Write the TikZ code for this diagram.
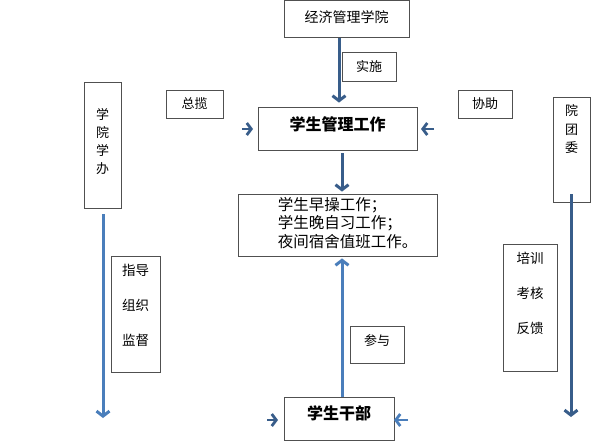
\documentclass[tikz,border=0pt]{standalone}
\usepackage{fontspec}
\setmainfont{Noto Sans CJK SC}
\usetikzlibrary{arrows.meta}
\definecolor{darkarr}{HTML}{385D8A}
\definecolor{lightarr}{HTML}{4A7EBB}
\definecolor{boxline}{HTML}{505050}
\begin{document}
\begin{tikzpicture}[x=1pt,y=-1pt,
  box/.style={draw=boxline, line width=0.8pt, fill=white, inner sep=0pt, align=center,
    font=\fontsize{13}{16}\selectfont},
  bigbold/.style={font=\fontsize{16}{18}\selectfont\bfseries},
  darr/.style={draw=darkarr, line width=3pt, -{Straight Barb[length=5pt,width=13pt]}},
  larr/.style={draw=lightarr, line width=3pt, -{Straight Barb[length=5pt,width=13pt]}},
  sdarr/.style={draw=darkarr, line width=2.8pt, -{Straight Barb[length=4.5pt,width=12pt]}},
  slarr/.style={draw=lightarr, line width=2.8pt, -{Straight Barb[length=4.5pt,width=12pt]}}]
\useasboundingbox (0,0) rectangle (592,442);

% boxes
\node[box, minimum width=125pt, minimum height=37pt, font=\fontsize{14}{16}\selectfont] (jj) at (346.5,18.8) {经济管理学院\rule[-5pt]{0pt}{5pt}};
\node[box, minimum width=54pt, minimum height=29pt] (ss) at (369,66.5) {实施};
\node[box, bigbold, minimum width=159pt, minimum height=43pt] (gl) at (337.5,128.5) {学生管理工作\rule[-10pt]{0pt}{10pt}};
\node[box, minimum width=57pt, minimum height=28pt] (zl) at (194.5,104) {总揽};
\node[box, minimum width=54pt, minimum height=28pt] (xz) at (485,104) {协助};
\node[box, minimum width=37pt, minimum height=126pt, font=\fontsize{13}{18}\selectfont] (xb) at (102.5,145) {学\\院\\学\\办\rule[-8pt]{0pt}{8pt}};
\node[box, minimum width=37pt, minimum height=105pt, font=\fontsize{13}{18.5}\selectfont] (tw) at (571.5,149.5) {院\\团\\委\rule[-42pt]{0pt}{42pt}};
\node[box, minimum width=199pt, minimum height=62pt, font=\fontsize{15.5}{18}\selectfont] (sx) at (337.5,225)
  {\hspace*{20pt}\begin{tabular}{@{}l@{}}学生早操工作；\\学生晚自习工作；\\夜间宿舍值班工作。\end{tabular}};
\node[box, minimum width=49pt, minimum height=116pt, font=\fontsize{13.5}{35}\selectfont] (zd) at (135.5,314) {指导\\组织\\监督\rule[-18pt]{0pt}{18pt}};
\node[box, bigbold, minimum width=110pt, minimum height=43pt] (gb) at (339,418.5) {学生干部\rule[-12pt]{0pt}{12pt}};
\node[box, minimum width=54pt, minimum height=37pt] (cy) at (377,344.5) {参与\rule[-8pt]{0pt}{8pt}};
\node[box, minimum width=54pt, minimum height=127pt, font=\fontsize{13.5}{35}\selectfont] (px) at (530,307.5) {培训\\考核\\反馈\rule[-29pt]{0pt}{29pt}};

% main connectors
\draw[darr, shorten >=4pt] (jj.south -| 339,0) -- (gl.north -| 339,0);
\draw[darr, shorten <=3pt, shorten >=2pt] (gl.south -| 342,0) -- (sx.north -| 342,0);
\draw[larr, shorten >=2pt] (gb.north -| 342,0) -- (sx.south -| 342,0);

% side long arrows
\coordinate (xbend) at (103,418);
\coordinate (twend) at (571,417);
\draw[larr, shorten <=6pt] (xb.south -| xbend) -- (xbend);
\draw[darr, shorten <=-8pt] (tw.south -| twend) -- (twend);

% small arrows
\coordinate (a1s) at (242,129); \coordinate (a1e) at (253,129);
\coordinate (a2s) at (434,129); \coordinate (a2e) at (421,129);
\coordinate (a3s) at (267,420); \coordinate (a3e) at (278,420);
\coordinate (a4s) at (408,420); \coordinate (a4e) at (394,420);
\draw[sdarr] (a1s) -- (a1e);
\draw[sdarr] (a2s) -- (a2e);
\draw[sdarr] (a3s) -- (a3e);
\draw[slarr] (a4s) -- (a4e);
\end{tikzpicture}
\end{document}
